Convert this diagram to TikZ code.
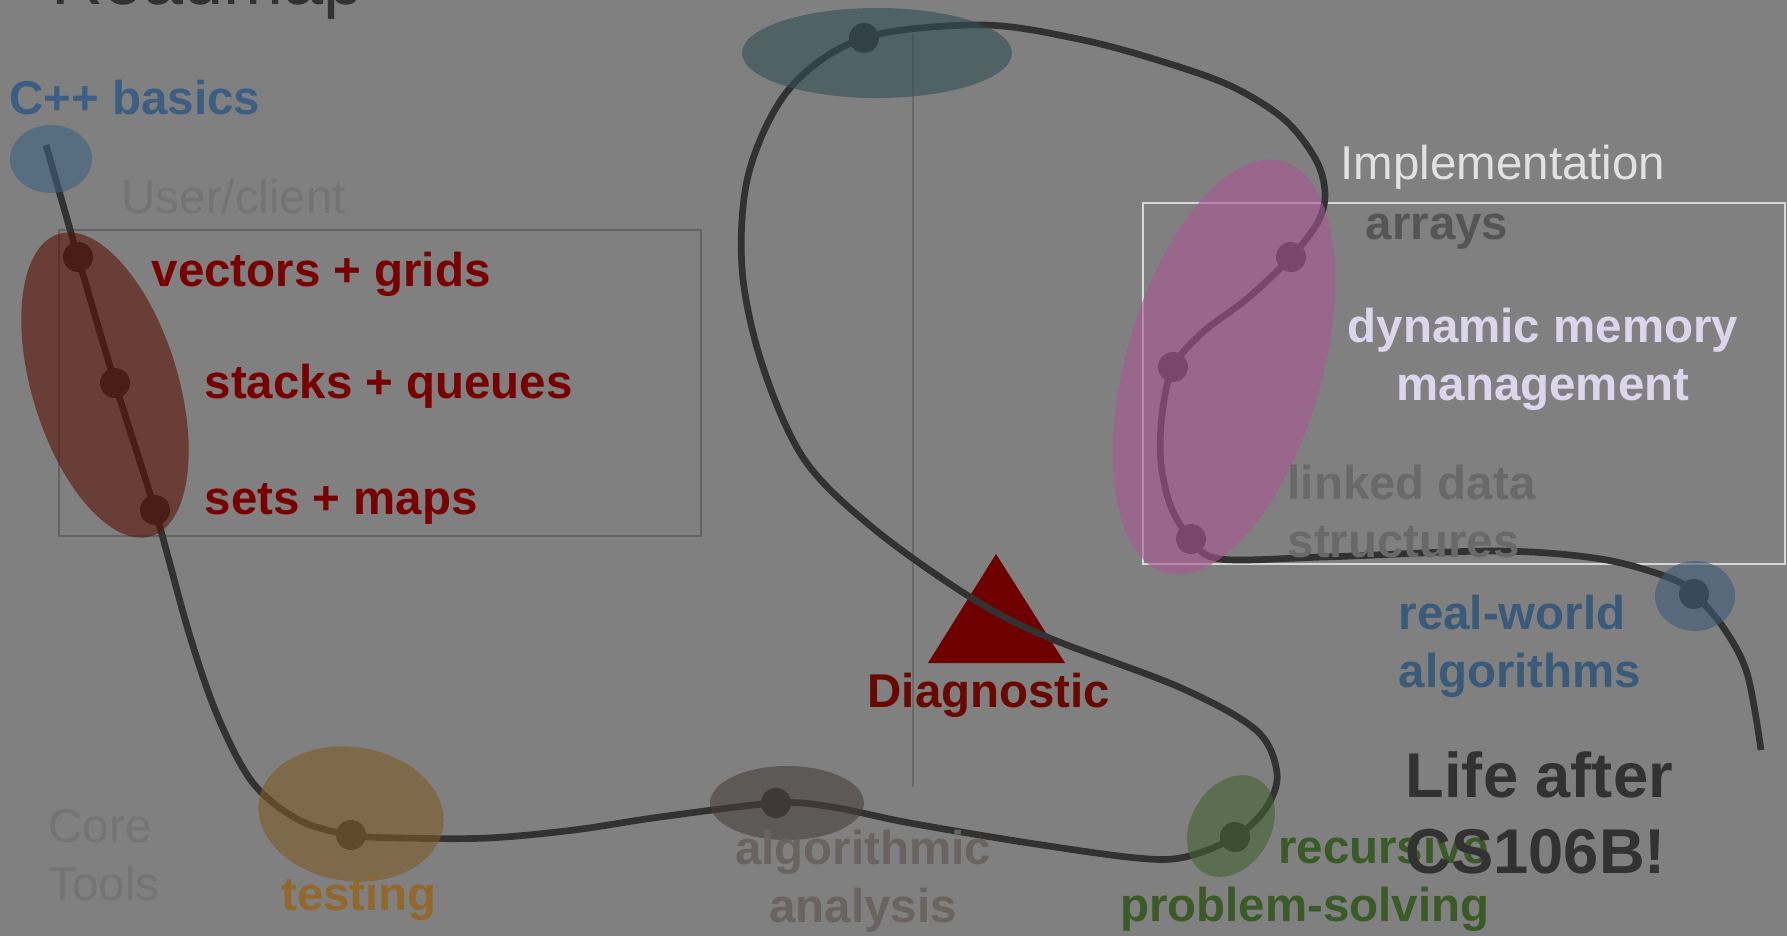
\documentclass[tikz,border=0pt]{standalone}
\usepackage{fontspec}
\setmainfont{Liberation Sans}
\usetikzlibrary{calc}
\definecolor{bg}{RGB}{128,128,128}
\definecolor{road}{RGB}{50,50,50}
\definecolor{faint}{RGB}{116,116,116}
\definecolor{redz}{RGB}{88,18,6}
\definecolor{pinkz}{RGB}{171,85,148}
\definecolor{tealz}{RGB}{51,78,85}
\definecolor{tanz}{RGB}{125,91,38}
\definecolor{algz}{RGB}{71,63,58}
\definecolor{greenz}{RGB}{68,98,48}
\definecolor{rwz}{RGB}{61,91,118}
\definecolor{cppz}{RGB}{61,98,128}
\definecolor{redt}{RGB}{120,0,0}
\definecolor{diagt}{RGB}{104,8,0}
\definecolor{tri}{RGB}{110,0,0}
\definecolor{bluet}{RGB}{60,94,130}
\definecolor{rwt}{RGB}{58,90,122}
\definecolor{tant}{RGB}{146,104,44}
\definecolor{algt}{RGB}{105,100,97}
\definecolor{greent}{RGB}{58,90,40}
\definecolor{implt}{RGB}{225,225,225}
\definecolor{arrt}{RGB}{85,85,85}
\definecolor{dynt}{RGB}{220,214,236}
\definecolor{lnkt}{RGB}{105,105,105}
\tikzset{
  tpc/.style={font=\bfseries\fontsize{13.5}{16.5}\selectfont, inner sep=0pt},
  lbl/.style={font=\fontsize{13.5}{16.5}\selectfont, inner sep=0pt},
  blob/.style={fill opacity=0.6},
  stopdot/.style={fill=road},
}
\begin{document}
\begin{tikzpicture}[x=0.1mm,y=-0.1mm]
  \useasboundingbox (0,0) rectangle (1787,936);
  \clip (0,0) rectangle (1787,936);
  \fill[bg] (0,0) rectangle (1787,936);
  \node[font=\fontsize{20.5}{24}\selectfont, text=road, anchor=base west, inner sep=0pt] (title) at (51,4) {Roadmap};
  \draw[faint!85!black, line width=0.5pt] (59,230) rectangle (701,536);
  \draw[implt!95!black, line width=0.5pt] (1143,203) rectangle (1785,564);
  \draw[lnkt, line width=0.35pt] (913,34) -- (913,787);
  \fill[tri] (996,554) -- (928,663) -- (1065,663) -- cycle;
  \coordinate (start) at (46,145);
  \coordinate (vg) at (78,257);
  \coordinate (sq) at (115,383);
  \coordinate (sm) at (155,510);
  \coordinate (tst) at (351,835);
  \coordinate (alg) at (776,803);
  \coordinate (rec) at (1235,837);
  \coordinate (top) at (864,38);
  \coordinate (arr) at (1291,257);
  \coordinate (dyn) at (1173,367);
  \coordinate (lnk) at (1191,539);
  \coordinate (rw) at (1694,594);
  \coordinate (fin) at (1761,750);
  \draw[road, line width=1.9pt] plot[smooth, tension=0.55] coordinates {(start) (vg) (sq) (sm)
    (189,633) (218,717) (253,783) (299,820) (tst) (402,838) (488,838) (574,830) (660,817) (alg)
    (832,807) (910,823) (1029,843) (1137,858) (1185,857) (rec) (1266,808) (1277,773) (1256,730)
    (1179,687) (1047,637) (970,597) (873,528) (804,459) (762,364) (742,268) (749,172) (790,88) (top)
    (983,25) (1083,40) (1167,63) (1233,87) (1285,120) (1316,160) (1325,193) (1318,222) (arr)
    (1248,298) (1203,332) (dyn) (1162,415) (1161,463) (1171,507) (lnk) (1220,559) (1324,557)
    (1497,551) (1601,559) (1670,578) (rw) (1723,627) (1747,673) (fin)};
  \foreach \p in {vg,sq,sm,tst,alg,rec,top,arr,dyn,lnk,rw}
    \fill[stopdot] (\p) circle (15);
  \fill[blob, cppz] (51,159) ellipse [x radius=41, y radius=34];
  \fill[blob, redz, rotate around={17:(105,385)}] (105,385) ellipse [x radius=73, y radius=158];
  \fill[blob, tanz, rotate around={-8:(351,814)}] (351,814) ellipse [x radius=93, y radius=67];
  \fill[blob, algz] (787,803) ellipse [x radius=77, y radius=37];
  \fill[blob, greenz, rotate around={-30:(1231,826)}] (1231,826) ellipse [x radius=40, y radius=54];
  \fill[blob, tealz] (877,53) ellipse [x radius=135, y radius=45];
  \fill[blob, pinkz, rotate around={-16:(1224,367)}] (1224,367) ellipse [x radius=98, y radius=214];
  \fill[blob, rwz] (1695,596) ellipse [x radius=40, y radius=35];
  \node[tpc, text=bluet, anchor=base west] (cpp) at (9,114) {C++ basics};
  \node[lbl, text=faint, anchor=base west] (user) at (121,213) {User/client};
  \node[tpc, text=redt, anchor=base west] (vecs) at (151,286) {vectors + grids};
  \node[tpc, text=redt, anchor=base west] (stks) at (204,398) {stacks + queues};
  \node[tpc, text=redt, anchor=base west] (sets) at (204,514) {sets + maps};
  \node[lbl, text=faint, anchor=base west, align=left] (core) at (48,900) {Core\\Tools};
  \node[tpc, text=tant, anchor=base] (testing) at (359,910) {testing};
  \node[tpc, text=algt, anchor=base, align=center] (algo) at (863,922) {algorithmic\\analysis};
  \node[tpc, text=diagt, anchor=base] (diag) at (989,707) {Diagnostic};
  \node[tpc, text=greent, anchor=base east, align=right] (recur) at (1490,921) {recursive\\problem-solving};
  \node[tpc, text=rwt, anchor=base west, align=left] (real) at (1398,687) {real-world\\algorithms};
  \node[lbl, text=implt, anchor=base west] (impl) at (1340,179) {Implementation};
  \node[tpc, text=arrt, anchor=base west] (arrays) at (1365,239) {arrays};
  \node[tpc, text=dynt, anchor=base, align=center] (dynm) at (1543,400) {dynamic memory\\management};
  \node[tpc, text=lnkt, anchor=base west, align=left] (linked) at (1287,557) {linked data\\structures};
  \node[tpc, font=\bfseries\fontsize{18}{21.6}\selectfont, text=road, anchor=base west, align=left] (life) at (1405,873) {Life after\\CS106B!};
\end{tikzpicture}
\end{document}
